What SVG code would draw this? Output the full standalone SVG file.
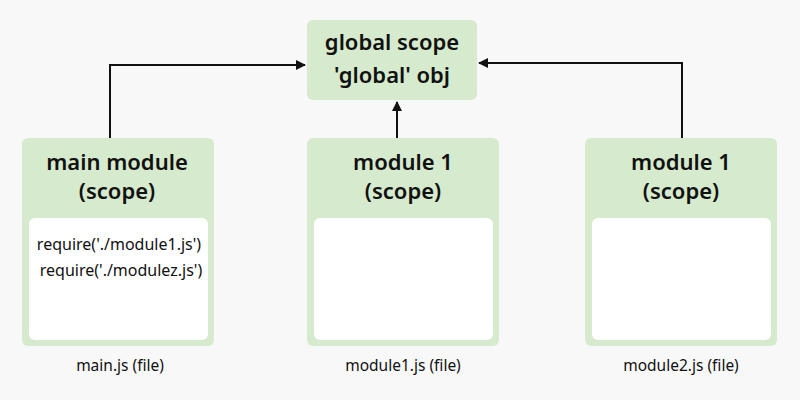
<svg xmlns="http://www.w3.org/2000/svg" width="800" height="400" viewBox="0 0 800 400">
<style>
.box{fill:#d6eacd}
.in{fill:#ffffff}
.t{font-family:"Noto Sans",sans-serif;font-weight:600;font-size:22px;fill:#111;text-anchor:middle}
.s{font-family:"Noto Sans",sans-serif;font-size:16px;fill:#111;text-anchor:middle}
.f{font-family:"Noto Sans",sans-serif;font-size:15.5px;fill:#111;text-anchor:middle}
.c{fill:none;stroke:#111;stroke-width:2}
</style>
<defs><marker id="a" viewBox="0 0 10 10" refX="9" refY="5" markerWidth="5" markerHeight="5" orient="auto"><path d="M0,0L10,5L0,10z" fill="#111"/></marker></defs>
<rect width="800" height="400" fill="#f8f8f8"/>
<g id="conn">
<path class="c" d="M110,138V65H305" marker-end="url(#a)"/>
<path class="c" d="M397,138V102" marker-end="url(#a)"/>
<path class="c" d="M682,138V63H479" marker-end="url(#a)"/>
</g>
<g id="global"><rect class="box" x="307" y="20" width="170" height="80" rx="6"/>
<text class="t" x="392" y="50">global scope</text><text class="t" x="392" y="83">'global' obj</text></g>
<g id="main"><rect class="box" x="22" y="138" width="192" height="208" rx="6"/><rect class="in" x="29" y="218" width="179" height="122" rx="6"/>
<text class="t" x="117" y="170">main module</text><text class="t" x="117" y="199">(scope)</text>
<text class="s" x="119" y="250">require('./module1.js')</text><text class="s" x="121" y="276">require('./modulez.js')</text>
<text class="f" x="120" y="371">main.js (file)</text></g>
<g id="m1"><rect class="box" x="307" y="138" width="192" height="208" rx="6"/><rect class="in" x="314" y="218" width="179" height="122" rx="6"/>
<text class="t" x="403" y="170">module 1</text><text class="t" x="403" y="199">(scope)</text>
<text class="f" x="403" y="371">module1.js (file)</text></g>
<g id="m2"><rect class="box" x="585" y="138" width="192" height="208" rx="6"/><rect class="in" x="592" y="218" width="179" height="122" rx="6"/>
<text class="t" x="681" y="170">module 1</text><text class="t" x="681" y="199">(scope)</text>
<text class="f" x="681" y="371">module2.js (file)</text></g>
</svg>
